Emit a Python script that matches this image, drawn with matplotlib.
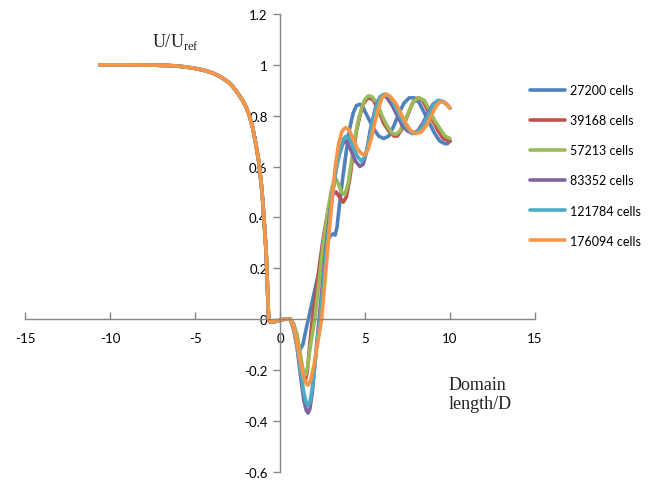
import matplotlib.pyplot as plt
from matplotlib.ticker import FuncFormatter

plt.rcParams['axes.unicode_minus'] = False
plt.rcParams['mathtext.fontset'] = 'custom'
plt.rcParams['mathtext.rm'] = 'Liberation Serif'

# shared upstream part (identical for every mesh)
x_up = [-10.6, -9.0, -7.5, -6.5, -6.0, -5.5, -5.0, -4.5, -4.0, -3.5, -3.0, -2.75,
        -2.5, -2.2, -2.0, -1.8, -1.6, -1.4, -1.25, -1.1, -1.0, -0.9, -0.82,
        -0.75, -0.7, -0.67, -0.6, -0.3, 0.0, 0.3, 0.6]
u_up = [1.0, 1.0, 0.999, 0.997, 0.995, 0.991, 0.986, 0.979, 0.969, 0.953, 0.93,
        0.912, 0.89, 0.86, 0.835, 0.80, 0.75, 0.68, 0.62, 0.53, 0.45, 0.35, 0.27,
        0.15, 0.05, 0.0, -0.01, -0.01, -0.005, 0.0, 0.0]

labels = ['27200 cells', '39168 cells', '57213 cells', '83352 cells',
          '121784 cells', '176094 cells']
colors = ['#4F81BD', '#C0504D', '#9BBB59', '#8064A2', '#4BACC6', '#F79646']

# wake part, one pair of lists per mesh
x_27200 = [0.8, 1.0, 1.18, 1.35, 1.5, 1.67, 1.9, 2.1, 2.35, 2.6, 2.8, 3.0, 3.12,
           3.24, 3.35, 3.5, 3.7, 3.9, 4.1, 4.3, 4.5, 4.7, 4.9, 5.2, 5.5, 5.8, 6.1,
           6.4, 6.7, 7.0, 7.3, 7.6, 7.9, 8.2, 8.5, 8.8, 9.1, 9.4, 9.7, 9.85, 10.0]
u_27200 = [-0.03, -0.085, -0.12, -0.1, -0.05, 0.0, 0.07, 0.13, 0.2, 0.27, 0.31,
           0.33, 0.335, 0.33, 0.36, 0.45, 0.56, 0.66, 0.75, 0.81, 0.84, 0.845,
           0.83, 0.79, 0.75, 0.72, 0.71, 0.72, 0.76, 0.81, 0.85, 0.87, 0.87, 0.85,
           0.81, 0.77, 0.73, 0.70, 0.69, 0.69, 0.70]

x_39168 = [0.8, 1.0, 1.2, 1.35, 1.5, 1.62, 1.75, 1.9, 2.1, 2.3, 2.5, 2.7, 2.9,
           3.1, 3.3, 3.5, 3.72, 3.9, 4.1, 4.3, 4.5, 4.7, 4.9, 5.1, 5.3, 5.5, 5.8,
           6.1, 6.4, 6.7, 6.9, 7.2, 7.5, 7.8, 8.1, 8.4, 8.7, 9.0, 9.3, 9.6, 10.0]
u_39168 = [-0.02, -0.07, -0.15, -0.21, -0.24, -0.2, -0.1, 0.0, 0.1, 0.2, 0.3,
           0.38, 0.45, 0.49, 0.5, 0.48, 0.46, 0.48, 0.55, 0.65, 0.74, 0.8, 0.845,
           0.865, 0.87, 0.86, 0.82, 0.77, 0.74, 0.72, 0.72, 0.75, 0.8, 0.85, 0.87,
           0.86, 0.82, 0.78, 0.74, 0.71, 0.70]

x_57213 = [0.8, 1.0, 1.2, 1.35, 1.5, 1.62, 1.8, 2.05, 2.3, 2.55, 2.8, 3.0, 3.15,
           3.3, 3.45, 3.6, 3.8, 4.0, 4.2, 4.4, 4.6, 4.8, 5.0, 5.2, 5.4, 5.7, 6.0,
           6.3, 6.6, 6.8, 7.0, 7.3, 7.6, 7.9, 8.2, 8.5, 8.8, 9.1, 9.4, 9.7, 10.0]
u_57213 = [-0.02, -0.06, -0.14, -0.2, -0.22, -0.19, -0.1, 0.0, 0.15, 0.3, 0.42,
           0.5, 0.54, 0.55, 0.53, 0.5, 0.49, 0.53, 0.62, 0.71, 0.78, 0.83, 0.865,
           0.878, 0.875, 0.85, 0.8, 0.76, 0.73, 0.727, 0.735, 0.77, 0.82, 0.86,
           0.87, 0.86, 0.82, 0.78, 0.75, 0.72, 0.71]

x_83352 = [0.8, 1.0, 1.2, 1.4, 1.55, 1.65, 1.75, 1.9, 2.05, 2.2, 2.3, 2.5, 2.7,
           2.9, 3.1, 3.3, 3.5, 3.7, 3.85, 4.0, 4.2, 4.45, 4.7, 4.9, 5.1, 5.3, 5.5,
           5.7, 5.9, 6.1, 6.3, 6.6, 6.9, 7.2, 7.5, 7.8, 8.1, 8.4, 8.7, 9.0, 9.3,
           9.6, 9.8, 10.0]
u_83352 = [-0.04, -0.11, -0.22, -0.32, -0.36, -0.37, -0.355, -0.29, -0.18, -0.07,
           0.0, 0.14, 0.28, 0.4, 0.5, 0.59, 0.65, 0.69, 0.7, 0.69, 0.66, 0.62, 0.6,
           0.61, 0.66, 0.74, 0.8, 0.85, 0.875, 0.88, 0.87, 0.84, 0.8, 0.76, 0.74,
           0.73, 0.74, 0.77, 0.81, 0.845, 0.86, 0.855, 0.845, 0.83]

x_121784 = [0.8, 1.0, 1.2, 1.4, 1.55, 1.65, 1.75, 1.9, 2.05, 2.2, 2.35, 2.55, 2.75,
            2.95, 3.15, 3.35, 3.55, 3.75, 3.9, 4.1, 4.3, 4.55, 4.8, 5.0, 5.2, 5.4,
            5.6, 5.8, 6.0, 6.15, 6.35, 6.6, 6.9, 7.2, 7.5, 7.8, 8.1, 8.4, 8.7, 9.0,
            9.3, 9.6, 9.8, 10.0]
u_121784 = [-0.03, -0.1, -0.2, -0.29, -0.33, -0.34, -0.33, -0.27, -0.18, -0.08,
            0.0, 0.14, 0.28, 0.41, 0.52, 0.61, 0.67, 0.71, 0.72, 0.71, 0.68, 0.64,
            0.62, 0.64, 0.69, 0.76, 0.82, 0.86, 0.88, 0.885, 0.88, 0.86, 0.82, 0.78,
            0.75, 0.73, 0.735, 0.76, 0.8, 0.84, 0.86, 0.855, 0.845, 0.83]

x_176094 = [0.8, 1.0, 1.2, 1.4, 1.55, 1.65, 1.8, 2.0, 2.2, 2.45, 2.65, 2.85, 3.05,
            3.25, 3.45, 3.65, 3.85, 4.05, 4.3, 4.55, 4.8, 5.0, 5.2, 5.4, 5.6, 5.8,
            6.0, 6.25, 6.5, 6.8, 7.1, 7.4, 7.7, 8.0, 8.3, 8.6, 8.9, 9.2, 9.45, 9.7,
            9.85, 10.0]
u_176094 = [-0.03, -0.09, -0.17, -0.23, -0.255, -0.26, -0.24, -0.18, -0.1, 0.0,
            0.15, 0.31, 0.46, 0.6, 0.69, 0.74, 0.753, 0.745, 0.71, 0.67, 0.65,
            0.645, 0.67, 0.72, 0.78, 0.83, 0.87, 0.885, 0.875, 0.85, 0.81, 0.77,
            0.74, 0.73, 0.735, 0.76, 0.8, 0.84, 0.855, 0.85, 0.84, 0.83]

wake = [(x_27200, u_27200), (x_39168, u_39168), (x_57213, u_57213),
        (x_83352, u_83352), (x_121784, u_121784), (x_176094, u_176094)]

fig = plt.figure(figsize=(6.64, 4.85), dpi=100)
ax = fig.add_axes([0.0377, 0.0256, 0.768, 0.9435])

for (xw, uw), lab, col in zip(wake, labels, colors):
    ax.plot(x_up + xw, u_up + uw, color=col, lw=2.6, label=lab,
            solid_joinstyle='round', solid_capstyle='round')

ax.set_xlim(-15, 15)
ax.set_ylim(-0.6, 1.2)
ax.set_xticks(range(-15, 16, 5))
ax.set_yticks([-0.6, -0.4, -0.2, 0, 0.2, 0.4, 0.6, 0.8, 1, 1.2])
ax.yaxis.set_major_formatter(FuncFormatter(lambda v, p: '%g' % round(v, 1)))

for s in ['top', 'right']:
    ax.spines[s].set_visible(False)
ax.spines['left'].set_position(('data', 0))
ax.spines['bottom'].set_position(('data', 0))
for s in ['left', 'bottom']:
    ax.spines[s].set_color('#868686')
    ax.spines[s].set_linewidth(1.0)

ax.tick_params(axis='x', direction='in', length=5, width=1, color='#868686',
               pad=9, labelsize=9.5)
ax.tick_params(axis='y', direction='out', length=5, width=1, color='#868686',
               pad=4, labelsize=9.5)
for t in ax.get_xticklabels() + ax.get_yticklabels():
    t.set_family('Lato')

fig.text(176 / 664, 1 - 42 / 485, r'U/U$_{\mathrm{ref}}$', ha='center', va='center',
         fontsize=13, family='Liberation Serif', color='#222222')
fig.text(449 / 664, 1 - 395 / 485, 'Domain\nlength/D', ha='left', va='center',
         fontsize=13, family='Liberation Serif', color='#222222', linespacing=1.1)

fig.legend(loc='upper left', bbox_to_anchor=(530 / 664, 1 - 85 / 485),
           frameon=False, handlelength=2.8, handletextpad=0.4,
           labelspacing=1.45, borderpad=0, borderaxespad=0,
           prop={'family': 'Lato', 'size': 9})

fig.savefig('out.png', dpi=100)
